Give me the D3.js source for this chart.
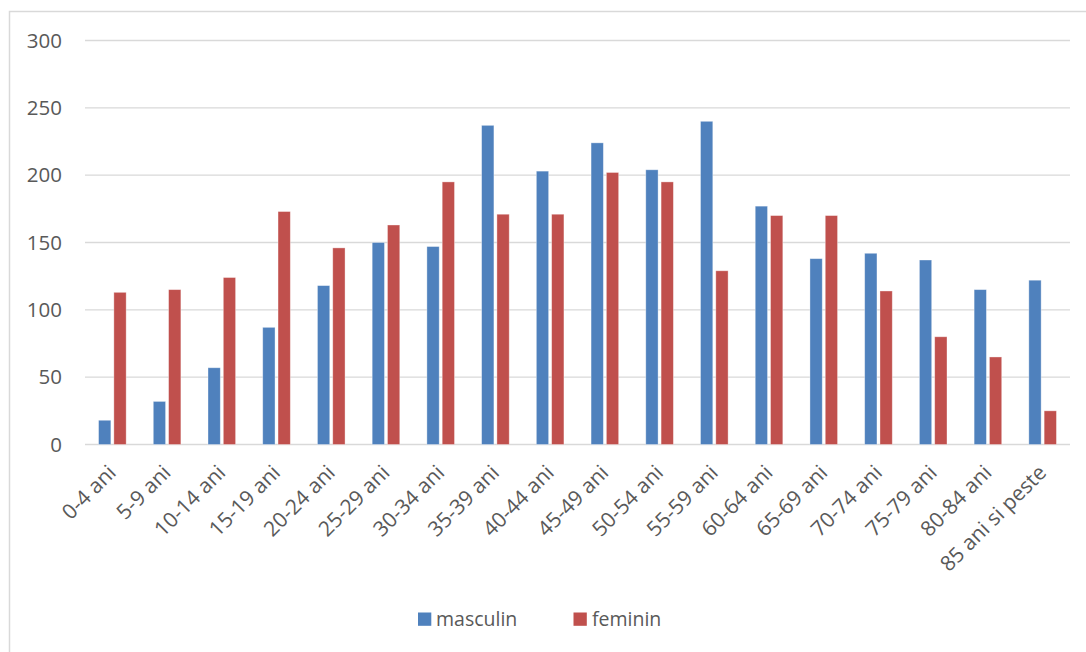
<!DOCTYPE html>
<html>
<head>
<meta charset="utf-8">
<script src="https://cdn.jsdelivr.net/npm/d3@7"></script>
<style>
  html, body { margin: 0; padding: 0; background: #fff; }
  svg { display: block; }
  text { font-family: "Open Sans", sans-serif; fill: #595959; }
</style>
</head>
<body>
<svg id="chart" width="1086" height="652"></svg>
<script>
const categories = ["0-4 ani","5-9 ani","10-14 ani","15-19 ani","20-24 ani","25-29 ani","30-34 ani","35-39 ani","40-44 ani","45-49 ani","50-54 ani","55-59 ani","60-64 ani","65-69 ani","70-74 ani","75-79 ani","80-84 ani","85 ani si peste"];
const seriesNames = ["masculin","feminin"];
const masculin = [18,32,57,87,118,150,147,237,203,224,204,240,177,138,142,137,115,122];
const feminin  = [113,115,124,173,146,163,195,171,171,202,195,129,170,170,114,80,65,25];
const yTicks = [0,50,100,150,200,250,300];
const colors = ["#4F81BD","#C0504D"];

const svg = d3.select("#chart");

// outer border
svg.append("rect").attr("x",9.5).attr("y",11.5).attr("width",1100).attr("height",700)
  .attr("fill","none").attr("stroke","#d9d9d9").attr("stroke-width",1.5);

const plotL = 85, plotR = 1070, plotT = 40.5, plotB = 444.5;
const y = d3.scaleLinear().domain([0,300]).range([plotB, plotT]);
const x0 = d3.scaleBand().domain(categories).range([plotL, plotR]).padding(0);
const groupW = 27.6;
const x1 = d3.scaleBand().domain(seriesNames).range([0, groupW]).paddingInner(3/15.3).paddingOuter(0);

// gridlines
svg.append("g").selectAll("line").data(yTicks).join("line")
  .attr("x1",plotL).attr("x2",plotR)
  .attr("y1",d=>y(d)).attr("y2",d=>y(d))
  .attr("stroke","#d9d9d9").attr("stroke-width",1.3);

// y axis labels
const yAxis = d3.axisLeft(y).tickValues(yTicks).tickSize(0).tickPadding(0);
const yg = svg.append("g").attr("transform","translate(62,0)").call(yAxis);
yg.select(".domain").remove();
yg.selectAll("text").attr("font-size",20.5).attr("fill","#595959")
  .attr("font-family","Open Sans, sans-serif");

// bars
const data = categories.map((c,i)=>({cat:c, vals:[masculin[i], feminin[i]]}));
const groups = svg.append("g").selectAll("g").data(data).join("g")
  .attr("transform", d => `translate(${x0(d.cat) + (x0.bandwidth()-groupW)/2},0)`);
groups.selectAll("rect").data(d => d.vals.map((v,j)=>({s:seriesNames[j], v, j})))
  .join("rect")
  .attr("x", d => x1(d.s))
  .attr("width", x1.bandwidth())
  .attr("y", d => y(d.v))
  .attr("height", d => y(0) - y(d.v))
  .attr("fill", d => colors[d.j])
  .attr("stroke","rgba(255,255,255,0.45)").attr("stroke-width",0.8);

// x labels
svg.append("g").selectAll("text").data(categories).join("text")
  .attr("transform", d => `translate(${x0(d) + x0.bandwidth()/2 + 5},474) rotate(-45)`)
  .attr("text-anchor","end")
  .attr("font-size",21)
  .text(d=>d);

// legend
const legend = [
  {name:"masculin", sx:418, tx:436},
  {name:"feminin", sx:573.5, tx:592}
];
const lg = svg.append("g");
legend.forEach((l,i)=>{
  lg.append("rect").attr("x",l.sx).attr("y",612.5).attr("width",13.3).attr("height",13.3).attr("fill",colors[i]);
  lg.append("text").attr("x",l.tx).attr("y",625.5).attr("font-size",19.5).text(l.name);
});
</script>
</body>
</html>
